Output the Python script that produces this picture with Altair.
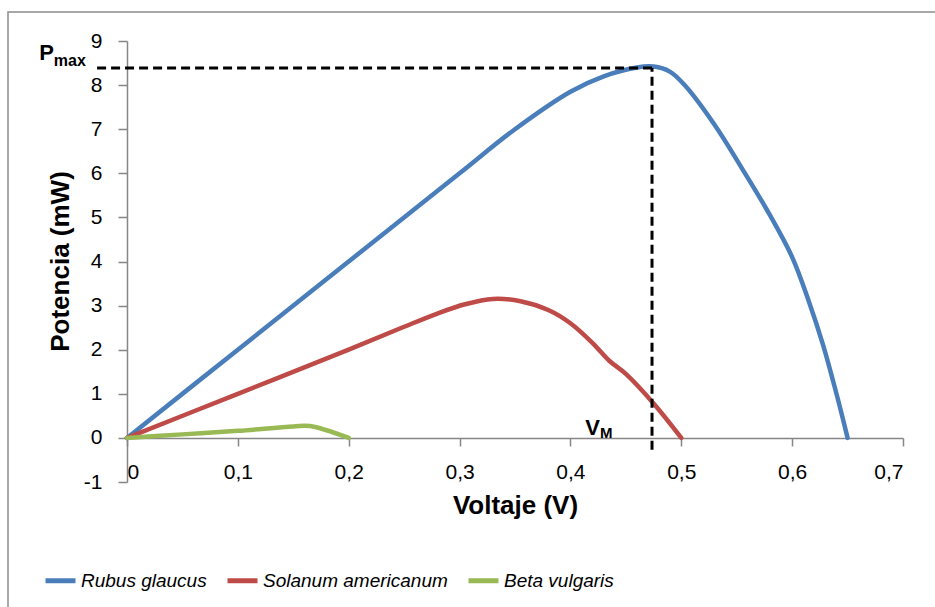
import altair as alt
import pandas as pd

# ---- data ----
rubus_v = [0.0, 0.1, 0.2, 0.3, 0.35, 0.40, 0.43, 0.46, 0.475, 0.49, 0.503, 0.53, 0.555, 0.58, 0.60, 0.615, 0.628, 0.64, 0.65]
rubus_p = [0.0, 2.0, 4.0, 6.0, 7.0, 7.85, 8.2, 8.4, 8.42, 8.3, 8.0, 7.1, 6.1, 5.05, 4.1, 3.1, 2.1, 1.0, 0.0]

solanum_v = [0.0, 0.1, 0.2, 0.25, 0.28, 0.305, 0.33, 0.355, 0.38, 0.40, 0.42, 0.435, 0.45, 0.475, 0.50]
solanum_p = [0.0, 1.0, 2.0, 2.52, 2.82, 3.03, 3.15, 3.1, 2.9, 2.6, 2.15, 1.75, 1.45, 0.78, 0.0]

beta_v = [0.0, 0.05, 0.1, 0.15, 0.165, 0.2]
beta_p = [0.0, 0.08, 0.16, 0.26, 0.27, 0.0]

series = ["Rubus glaucus", "Solanum americanum", "Beta vulgaris"]
colors = ["#4A7EBB", "#BE4B48", "#98B954"]

x_ticks = [0, 0.1, 0.2, 0.3, 0.4, 0.5, 0.6, 0.7]
y_ticks = [-1, 0, 1, 2, 3, 4, 5, 6, 7, 8, 9]

pmax_v, pmax_p = 0.4736, 8.39

rows = []
for name, vs, ps in zip(series, [rubus_v, solanum_v, beta_v], [rubus_p, solanum_p, beta_p]):
    for i, (v, p) in enumerate(zip(vs, ps)):
        rows.append({"serie": name, "v": v, "p": p, "o": i})
df = pd.DataFrame(rows)

FONT = "Liberation Sans"
XT = "Voltaje (V)"
YT = "Potencia (mW)"

xscale = alt.Scale(domain=[0, 0.7], nice=False, zero=False)
yscale = alt.Scale(domain=[-1, 9], nice=False, zero=False)

x_axis = alt.Axis(
    values=x_ticks, orient="bottom", offset=-44, grid=False,
    labelExpr="replace(format(datum.value, '.1~f'), '.', ',')",
    labelFont=FONT, labelFontSize=21, labelColor="black", labelPadding=15,
    tickSize=8, tickColor="#868686", tickWidth=1.5,
    domainColor="#868686", domainWidth=1.5,
    title=XT, titleFont=FONT, titleFontSize=26, titleFontWeight="bold",
    titleColor="black", titleY=67, titleBaseline="middle",
)
y_axis = alt.Axis(
    values=y_ticks, grid=False,
    labelExpr="'' + datum.value",
    labelFont=FONT, labelFontSize=21, labelColor="black", labelPadding=16,
    tickSize=9, tickColor="#868686", tickWidth=1.5,
    domainColor="#868686", domainWidth=1.5,
    title=YT, titleFont=FONT, titleFontSize=26, titleFontWeight="bold",
    titleColor="black", titleX=-67, titleY=220, titleAngle=-90,
    titleAlign="center", titleBaseline="middle",
)

lines = alt.Chart(df).mark_line(strokeWidth=4.5, interpolate="catmull-rom", strokeCap="round", strokeJoin="round").encode(
    x=alt.X("v:Q", scale=xscale, axis=x_axis, title=XT),
    y=alt.Y("p:Q", scale=yscale, axis=y_axis, title=YT),
    color=alt.Color(
        "serie:N",
        scale=alt.Scale(domain=series, range=colors),
        sort=series,
        legend=alt.Legend(
            orient="none", legendX=-84, legendY=522, direction="horizontal",
            title=None, symbolType="stroke", symbolSize=900, symbolStrokeWidth=5,
            labelFont=FONT, labelFontSize=19, labelLimit=0,
            labelFontStyle="italic", labelColor="black", labelOffset=3,
            columnPadding=10,
        ),
    ),
    order="o:Q",
)

hdash = alt.Chart(pd.DataFrame({"v": [-0.027], "v2": [pmax_v], "p": [pmax_p]})).mark_rule(
    strokeDash=[9, 5], strokeWidth=3, color="black"
).encode(
    x=alt.X("v:Q", scale=xscale, title=XT), x2="v2:Q",
    y=alt.Y("p:Q", scale=yscale, title=YT),
)
vdash = alt.Chart(pd.DataFrame({"v": [pmax_v], "p": [-0.27], "p2": [pmax_p]})).mark_rule(
    strokeDash=[9, 5], strokeWidth=3, color="black"
).encode(
    x=alt.X("v:Q", scale=xscale, title=XT),
    y=alt.Y("p:Q", scale=yscale, title=YT), y2="p2:Q",
)

big = pd.DataFrame({"v": [-0.066, 0.4267], "p": [8.73, 0.23], "t": ["P", "V"]})
small = pd.DataFrame({"v": [-0.066, 0.4267], "p": [8.55, 0.1], "t": ["max", "M"], "s": [16, 15]})

big_txt = alt.Chart(big).mark_text(font=FONT, fontSize=22, fontWeight="bold", align="right", baseline="middle", color="black").encode(
    x=alt.X("v:Q", scale=xscale, title=XT), y=alt.Y("p:Q", scale=yscale, title=YT), text="t:N"
)
small_txt = alt.Chart(small).mark_text(font=FONT, fontWeight="bold", align="left", baseline="middle", color="black").encode(
    x=alt.X("v:Q", scale=xscale, title=XT), y=alt.Y("p:Q", scale=yscale, title=YT), text="t:N",
    size=alt.Size("s:Q", scale=None, legend=None),
)

border = alt.Chart(pd.DataFrame({"a": [0]})).mark_rect(
    fillOpacity=0, stroke="#8C8C8C", strokeWidth=1.5
).encode(
    x=alt.value(-119), x2=alt.value(840), y=alt.value(-29), y2=alt.value(620)
)

chart = alt.layer(border, lines, hdash, vdash, big_txt, small_txt).properties(
    width=776, height=441,
    autosize=alt.AutoSizeParams(type="none"),
    padding={"left": 127, "top": 41, "right": 32, "bottom": 125},
    background="white",
).configure_view(stroke=None)

chart.save("out.html", embed_options={"renderer": "svg", "actions": False})
